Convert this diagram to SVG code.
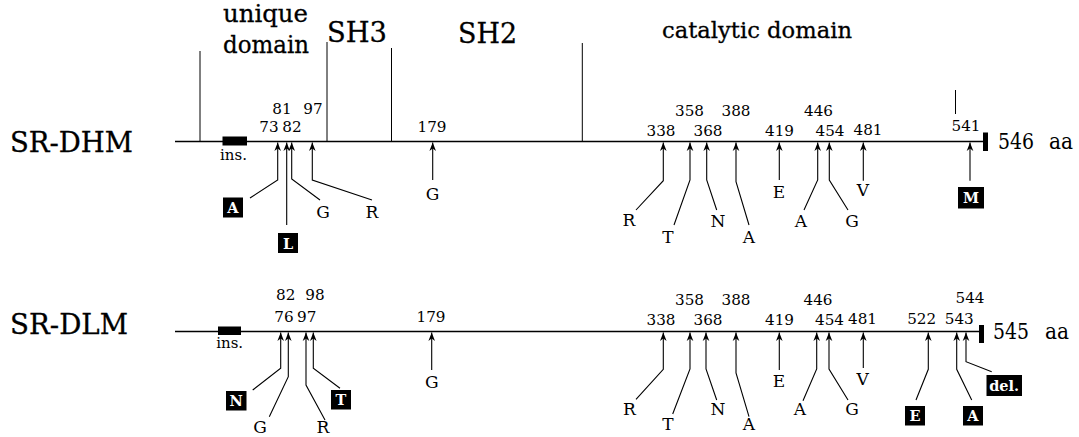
<svg xmlns="http://www.w3.org/2000/svg" width="1079" height="437" viewBox="0 0 1079 437">
<style>
text{font-family:"DejaVu Serif","Liberation Serif","Noto Serif",serif;fill:#000}
.hdr{stroke:#000;stroke-width:0.3}
.name{font-size:27px;stroke:#000;stroke-width:0.3}
.num{font-size:15.2px;text-anchor:middle}
.let{font-size:17px;text-anchor:middle}
.boxt{font-size:14.5px;font-weight:bold;fill:#fff;text-anchor:middle}
.ins{font-size:15px;text-anchor:middle}
.len{font-size:22px}
.bb{fill:#000}
.seq{stroke:#000;stroke-width:1.6;fill:none}
.dom{stroke:#000;stroke-width:1;fill:none}
.con{stroke:#000;stroke-width:1.1;fill:none;marker-end:url(#ah)}
</style>
<defs>
<marker id="ah" viewBox="-9 -4 10 8" markerWidth="10" markerHeight="8" refX="0" refY="0" orient="auto" markerUnits="userSpaceOnUse">
<path d="M0,0 L-8.5,-3.3 L-6,0 L-8.5,3.3 Z" fill="#000"/>
</marker>
</defs>

<g id="header">
<text class="hdr" x="223" y="22" font-size="25" textLength="85" lengthAdjust="spacingAndGlyphs">unique</text>
<text class="hdr" x="223" y="53" font-size="25" textLength="86" lengthAdjust="spacingAndGlyphs">domain</text>
<text class="hdr" x="327" y="42" font-size="28" textLength="60" lengthAdjust="spacingAndGlyphs">SH3</text>
<text class="hdr" x="458" y="42.5" font-size="28" textLength="59" lengthAdjust="spacingAndGlyphs">SH2</text>
<text class="hdr" x="662" y="37.5" font-size="23" textLength="190" lengthAdjust="spacingAndGlyphs">catalytic domain</text>
<line class="dom" x1="200" y1="51" x2="200" y2="141"/>
<line class="dom" x1="327" y1="42" x2="327" y2="141"/>
<line class="dom" x1="391.5" y1="48" x2="391.5" y2="141"/>
<line class="dom" x1="582.3" y1="43" x2="582.3" y2="141"/>
<line class="dom" x1="955.5" y1="90" x2="955.5" y2="114"/>
</g>

<g id="sr-dhm">
<text class="name" x="10" y="151.5" textLength="123" lengthAdjust="spacingAndGlyphs">SR-DHM</text>
<line class="seq" x1="175" y1="141.5" x2="984" y2="141.5"/>
<rect class="bb" x="983" y="132.5" width="5" height="18.5"/>
<text class="len" x="998" y="149.3" textLength="36" lengthAdjust="spacingAndGlyphs">546</text>
<text class="len" x="1049" y="149.3" textLength="24" lengthAdjust="spacingAndGlyphs">aa</text>
<rect class="bb" x="222.5" y="136.5" width="24.5" height="9"/>
<text class="ins" x="233.5" y="160">ins.</text>
<text class="num" x="282" y="113.5">81</text>
<text class="num" x="313" y="113.5">97</text>
<text class="num" x="269" y="131.5">73</text>
<text class="num" x="292" y="131.5">82</text>
<text class="num" x="432" y="131.5">179</text>
<text class="num" x="689.5" y="116">358</text>
<text class="num" x="736" y="116">388</text>
<text class="num" x="818.5" y="116">446</text>
<text class="num" x="661" y="136">338</text>
<text class="num" x="708" y="136">368</text>
<text class="num" x="779.5" y="136">419</text>
<text class="num" x="830" y="136">454</text>
<text class="num" x="868" y="135">481</text>
<text class="num" x="966" y="130.5">541</text>
<rect class="bb" x="223" y="197.5" width="20" height="20"/>
<text class="boxt" x="233" y="213">A</text>
<rect class="bb" x="278" y="233" width="20" height="20"/>
<text class="boxt" x="288" y="248.5">L</text>
<text class="let" x="323" y="218">G</text>
<text class="let" x="372" y="218">R</text>
<text class="let" x="432.5" y="200">G</text>
<text class="let" x="629" y="226">R</text>
<text class="let" x="668" y="243">T</text>
<text class="let" x="718" y="227">N</text>
<text class="let" x="749" y="243">A</text>
<text class="let" x="779" y="198">E</text>
<text class="let" x="801" y="227">A</text>
<text class="let" x="852" y="227">G</text>
<text class="let" x="863" y="196">V</text>
<rect class="bb" x="958" y="187" width="26" height="21.5"/>
<text class="boxt" x="971" y="203">M</text>
</g>

<g id="sr-dlm">
<text class="name" x="10" y="333.5" textLength="118" lengthAdjust="spacingAndGlyphs">SR-DLM</text>
<line class="seq" x1="175" y1="331.5" x2="980" y2="331.5"/>
<rect class="bb" x="979" y="325" width="5" height="18"/>
<text class="len" x="993" y="339" textLength="36" lengthAdjust="spacingAndGlyphs">545</text>
<text class="len" x="1045" y="339" textLength="24" lengthAdjust="spacingAndGlyphs">aa</text>
<rect class="bb" x="218" y="326.5" width="23" height="8.5"/>
<text class="ins" x="229.7" y="348.3">ins.</text>
<text class="num" x="285.7" y="300">82</text>
<text class="num" x="315" y="300">98</text>
<text class="num" x="284" y="321.7">76</text>
<text class="num" x="306.7" y="321.7">97</text>
<text class="num" x="431" y="321.7">179</text>
<text class="num" x="689.5" y="305">358</text>
<text class="num" x="736" y="305">388</text>
<text class="num" x="818" y="305">446</text>
<text class="num" x="661" y="325">338</text>
<text class="num" x="708" y="325">368</text>
<text class="num" x="779.5" y="325">419</text>
<text class="num" x="829.5" y="325">454</text>
<text class="num" x="862.5" y="324">481</text>
<text class="num" x="921.7" y="324">522</text>
<text class="num" x="959.3" y="324">543</text>
<text class="num" x="970" y="303.3">544</text>
<rect class="bb" x="226" y="391" width="20.5" height="19.5"/>
<text class="boxt" x="236.2" y="406">N</text>
<text class="let" x="260" y="433">G</text>
<text class="let" x="323" y="433">R</text>
<rect class="bb" x="331" y="390" width="20" height="19.5"/>
<text class="boxt" x="341" y="405">T</text>
<text class="let" x="431.7" y="388.3">G</text>
<text class="let" x="629.3" y="415">R</text>
<text class="let" x="668" y="430">T</text>
<text class="let" x="718" y="415">N</text>
<text class="let" x="749" y="430">A</text>
<text class="let" x="779" y="386.7">E</text>
<text class="let" x="800" y="415">A</text>
<text class="let" x="852" y="415">G</text>
<text class="let" x="862.7" y="385">V</text>
<rect class="bb" x="905" y="406" width="20" height="19.5"/>
<text class="boxt" x="915" y="421">E</text>
<rect class="bb" x="963" y="406" width="20" height="19.5"/>
<text class="boxt" x="973" y="421">A</text>
<rect class="bb" x="986.5" y="375" width="35.5" height="21"/>
<text class="boxt" x="1004.2" y="390.5">del.</text>
</g>

<g id="connectors">
<polyline class="con" points="250,198 277.7,180 277.7,142.5"/>
<polyline class="con" points="286.7,225 286.7,142.5"/>
<polyline class="con" points="320,200 291.7,179 291.7,142.5"/>
<polyline class="con" points="372,200 312.3,180 312.3,142.5"/>
<polyline class="con" points="432.7,180 432.7,142.5"/>
<polyline class="con" points="636,210 663.3,180.7 663.3,142.5"/>
<polyline class="con" points="674,225 690,180 690,142.5"/>
<polyline class="con" points="716.7,210 706.7,180 706.7,142.5"/>
<polyline class="con" points="749,225 736,181.7 736,142.5"/>
<polyline class="con" points="779.3,180 779.3,142.5"/>
<polyline class="con" points="804,210 817.7,180 817.7,142.5"/>
<polyline class="con" points="848,210 829.3,180 829.3,142.5"/>
<polyline class="con" points="863.3,180.7 863.3,142.5"/>
<polyline class="con" points="970,180.7 970,142.5"/>

<polyline class="con" points="252.7,390 280.7,368.3 280.7,332.5"/>
<polyline class="con" points="269.3,416.7 288.3,376.7 288.3,332.5"/>
<polyline class="con" points="325,420 306,385 306,332.5"/>
<polyline class="con" points="340,388.3 313.3,368.3 313.3,332.5"/>
<polyline class="con" points="431.7,370 431.7,332.5"/>
<polyline class="con" points="636,399.3 663.3,369.3 663.3,332.5"/>
<polyline class="con" points="672.7,414 690,369 690,332.5"/>
<polyline class="con" points="716.7,400 706,369 706,332.5"/>
<polyline class="con" points="749,416.7 736,373 736,332.5"/>
<polyline class="con" points="779.3,370 779.3,332.5"/>
<polyline class="con" points="803,400.7 816.7,369 816.7,332.5"/>
<polyline class="con" points="848,400 829,369 829,332.5"/>
<polyline class="con" points="863.3,368 863.3,332.5"/>
<polyline class="con" points="916,400 928.3,369.3 928.3,332.5"/>
<polyline class="con" points="971.7,400 956.7,369.3 956.7,332.5"/>
<polyline class="con" points="991.7,371.7 966,361.7 966,332.5"/>
</g>
</svg>
